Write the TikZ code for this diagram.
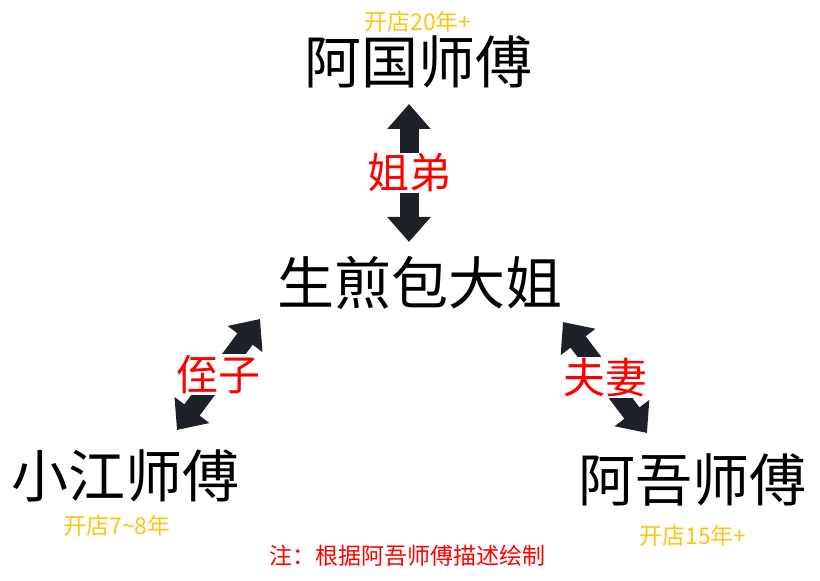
\documentclass[tikz,border=0pt]{standalone}
\usepackage{fontspec}
\setmainfont{Noto Sans CJK SC}
\usetikzlibrary{arrows.meta}
\definecolor{shopgold}{HTML}{FFC412}
\definecolor{arrowdark}{HTML}{1E2228}

\begin{document}
\begin{tikzpicture}[x=1pt,y=1pt,
    person/.style={inner sep=0pt, font=\fontsize{57}{60}\selectfont},
    years/.style={inner sep=0pt, text=shopgold, font=\fontsize{23}{26}\selectfont},
    relation/.style={inner sep=1pt, fill=white, text=red, font=\fontsize{42}{45}\selectfont},
    biarrow/.style={draw=arrowdark, line width=19pt,
        {Triangle[width=42pt,length=25pt]}-{Triangle[width=42pt,length=25pt]}}]
    \useasboundingbox (0,0) rectangle (820,581);
    % people
    \node[person] (guo) at (418,519) {阿国师傅};
    \node[years] (guoyr) at (418,559) {开店20年+};
    \node[person] (jie) at (420,298) {生煎包大姐};
    \node[person] (jiang) at (126,105) {小江师傅};
    \node[years] (jiangyr) at (117,55) {开店7\textasciitilde8年};
    \node[person] (wu) at (692,101) {阿吾师傅};
    \node[years] (wuyr) at (693,45) {开店15年+};
    % arrow ends
    \coordinate (g1) at (409,477);
    \coordinate (g2) at (409,339);
    \coordinate (j1) at (260,262);
    \coordinate (j2) at (177,151);
    \coordinate (w1) at (563,259);
    \coordinate (w2) at (647,148);
    \draw[biarrow] (g1) -- (g2) node[relation, midway] (jd) {姐弟};
    \draw[biarrow] (j1) -- (j2) node[relation, midway] (zz) {侄子};
    \draw[biarrow] (w1) -- (w2) node[relation, midway] (fq) {夫妻};
    % note
    \node[inner sep=0pt, text=red, font=\fontsize{23}{26}\selectfont] (note) at (407,25) {注：根据阿吾师傅描述绘制};
\end{tikzpicture}
\end{document}
